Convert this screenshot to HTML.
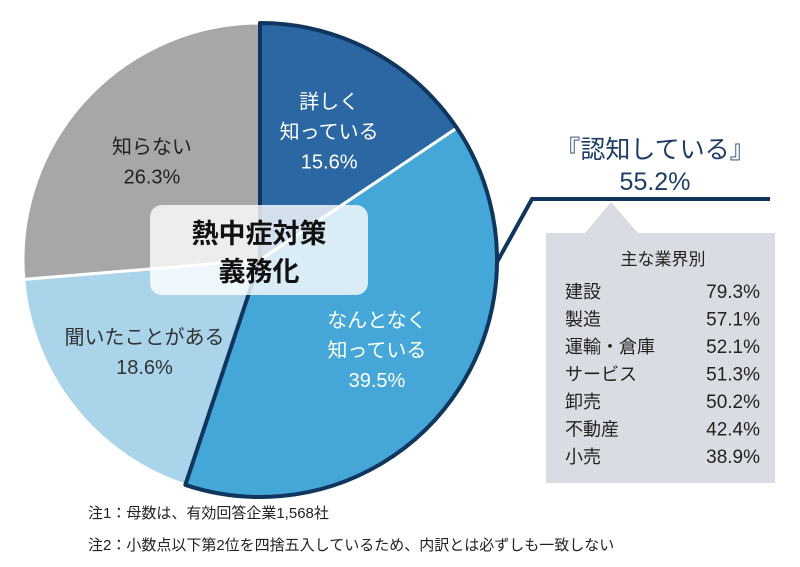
<!DOCTYPE html>
<html><head><meta charset="utf-8">
<style>
body{margin:0;background:#fff;width:800px;height:562px;overflow:hidden;font-family:"Liberation Sans","Noto Sans CJK JP",sans-serif;}
svg text{font-family:"Liberation Sans","Noto Sans CJK JP",sans-serif;}
</style></head><body>
<svg id="chart" width="800" height="562" viewBox="0 0 800 562" xmlns="http://www.w3.org/2000/svg">
<g id="slices"></g>
<g id="labels"></g>
<path d="M497,262 L532,199 L770,199" fill="none" stroke="#10365f" stroke-width="4"/>
<path d="M546,233 L585,233 L611,202 L638,233 L775,233 L775,483 L546,483 Z" fill="#d9dde3"/>
<text x="655" y="158" text-anchor="middle" font-size="25" fill="#1c3d66">『認知している』</text>
<text x="655" y="190" text-anchor="middle" font-size="25" fill="#1c3d66">55.2%</text>
<text x="663" y="265" text-anchor="middle" font-size="17" fill="#222">主な業界別</text>
<g id="industry"></g>
<rect x="150" y="205" width="218" height="90" rx="12" fill="#ffffff" fill-opacity="0.8"/>
<text x="259" y="243" text-anchor="middle" font-size="27" font-weight="bold" fill="#111">熱中症対策</text>
<text x="259" y="281" text-anchor="middle" font-size="27" font-weight="bold" fill="#111">義務化</text>
<text x="88" y="518" font-size="15" fill="#222">注1：母数は、有効回答企業1,568社</text>
<text x="88" y="550" font-size="15" fill="#222">注2：小数点以下第2位を四捨五入しているため、内訳とは必ずしも一致しない</text>
</svg>
<script>
const categories=["詳しく知っている","なんとなく知っている","聞いたことがある","知らない"];
const values=[15.6,39.5,18.6,26.3];
const industries=["建設","製造","運輸・倉庫","サービス","卸売","不動産","小売"];
const industryValues=[79.3,57.1,52.1,51.3,50.2,42.4,38.9];
const colors=["#2a67a3","#45a7d8","#a9d4ea","#a7a7a7"];
const cx=260,cy=260,r=237;
const NS="http://www.w3.org/2000/svg";
const total=values.reduce((a,b)=>a+b,0);
function ang(v){return v/total*2*Math.PI-Math.PI/2;}
function pt(a,rr){return [cx+rr*Math.cos(a),cy+rr*Math.sin(a)];}
const sg=document.getElementById('slices'),lg=document.getElementById('labels');
let acc=0;
const labelLines=[["詳しく","知っている"],["なんとなく","知っている"],["聞いたことがある"],["知らない"]];
const labelPos=[[0.62,0],[0.62,0],[0.62,0],[0.62,0]];
const labelColor=["#fff","#fff","#333","#222"];
values.forEach((v,i)=>{
  const a0=ang(acc),a1=ang(acc+v);
  const [x0,y0]=pt(a0,r),[x1,y1]=pt(a1,r);
  const p=document.createElementNS(NS,'path');
  p.setAttribute('d',`M${cx},${cy} L${x0},${y0} A${r},${r} 0 ${v/total>0.5?1:0} 1 ${x1},${y1} Z`);
  p.setAttribute('fill',colors[i]);p.setAttribute('stroke','#fff');p.setAttribute('stroke-width','3');
  
  
  sg.appendChild(p);
  const am=ang(acc+v/2);const [lx,ly]=pt(am,r*labelPos[i][0]);
  const lines=labelLines[i].concat([v.toFixed(1)+"%"]);
  lines.forEach((t,j)=>{
    const tx=document.createElementNS(NS,'text');
    tx.setAttribute('x',lx);tx.setAttribute('y',ly+(j-(lines.length-1)/2)*30+8);
    tx.setAttribute('text-anchor','middle');tx.setAttribute('font-size','20');tx.setAttribute('fill',labelColor[i]);
    
    
    tx.textContent=t;lg.appendChild(tx);
  });
  acc+=v;
});
// navy outline around aware group
const aEnd=ang(values[0]+values[1]);
const [ex,ey]=pt(aEnd,r);
const o=document.createElementNS(NS,'path');
o.setAttribute('d',`M${cx},${cy} L${cx},${cy-r} A${r},${r} 0 ${(values[0]+values[1])/total>0.5?1:0} 1 ${ex},${ey} Z`);
o.setAttribute('fill','none');o.setAttribute('stroke','#10365f');o.setAttribute('stroke-width','4');o.setAttribute('stroke-linejoin','round');


sg.appendChild(o);
const ig=document.getElementById('industry');
industries.forEach((n,i)=>{
  const y=298+i*27.5;
  const a=document.createElementNS(NS,'text');
  a.setAttribute('x',565);a.setAttribute('y',y);a.setAttribute('font-size','18');a.setAttribute('fill','#222');
  
  
  a.textContent=n;ig.appendChild(a);
  const b=document.createElementNS(NS,'text');
  b.setAttribute('x',760);b.setAttribute('y',y);b.setAttribute('font-size','19');b.setAttribute('fill','#222');b.setAttribute('text-anchor','end');
  
  
  b.textContent=industryValues[i].toFixed(1)+"%";ig.appendChild(b);
});
</script>
</body></html>
